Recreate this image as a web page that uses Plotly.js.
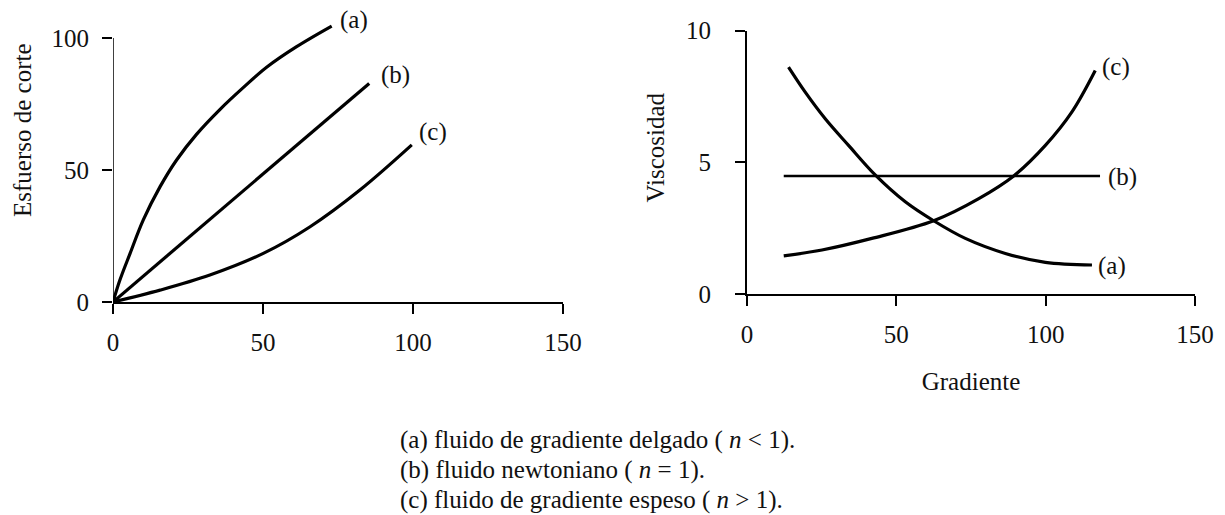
<!DOCTYPE html>
<html>
<head>
<meta charset="utf-8">
<script src="https://cdn.plot.ly/plotly-3.0.1.min.js"></script>
<style>
  html, body { margin: 0; padding: 0; background: #fff; }
  #chart { width: 1225px; height: 515px; }
</style>
</head>
<body>
<div id="chart"></div>
<script>
// Esfuerso de corte vs gradiente (left panel)
const shearA_x = [0, 2.3, 5.7, 10.1, 15.7, 21.2, 27.9, 35.7, 43.4, 51.2, 61.2, 72.9];
const shearA_y = [0, 8.3, 18.4, 31.1, 43.7, 53.8, 63.6, 73.0, 81.2, 88.9, 96.7, 104.5];
const shearB_x = [0, 85.4];
const shearB_y = [0, 82.8];
const shearC_x = [0, 15.7, 32.3, 50.1, 65.7, 82.3, 99.6];
const shearC_y = [0, 4.5, 10.2, 18.4, 28.5, 42.4, 59.5];

// Viscosidad vs gradiente (right panel)
const viscA_x = [13.9, 19.5, 26.2, 34.0, 43.0, 53.0, 62.5, 73.1, 86.5, 99.9, 115.5];
const viscA_y = [8.61, 7.66, 6.65, 5.64, 4.51, 3.50, 2.78, 2.11, 1.54, 1.20, 1.10];
const viscB_x = [12.3, 118.2];
const viscB_y = [4.48, 4.48];
const viscC_x = [12.3, 25.1, 41.8, 62.5, 77.6, 89.3, 99.9, 108.8, 116.6];
const viscC_y = [1.45, 1.67, 2.11, 2.78, 3.62, 4.48, 5.64, 6.91, 8.48];

// Tick values and labels
const xTicks = [0, 50, 100, 150];
const shearTicks = [0, 50, 100];
const viscTicks = [0, 5, 10];
const curveNames = ['(a)', '(b)', '(c)'];
const captionLines = [
  '(a) fluido de gradiente delgado ( <i>n</i> &lt; 1).',
  '(b) fluido newtoniano ( <i>n</i> = 1).',
  '(c) fluido de gradiente espeso ( <i>n</i> &gt; 1).'
];

const W = 1225, H = 515;
const serif = 'Liberation Serif, Times New Roman, serif';
const txt = { family: serif, size: 25, color: '#111' };
const curveLine = { color: '#000', width: 3.2, shape: 'spline', smoothing: 1 };

function line(x, y, xa, ya, extra) {
  return {
    type: 'scatter', mode: 'lines', x: x, y: y, xaxis: xa, yaxis: ya,
    line: Object.assign({}, curveLine, extra || {}), hoverinfo: 'skip'
  };
}

const traces = [
  line(shearA_x, shearA_y, 'x', 'y'),
  line(shearB_x, shearB_y, 'x', 'y', { shape: 'linear' }),
  line(shearC_x, shearC_y, 'x', 'y'),
  line(viscA_x, viscA_y, 'x2', 'y2'),
  line(viscB_x, viscB_y, 'x2', 'y2', { shape: 'linear', width: 2.6 }),
  line(viscC_x, viscC_y, 'x2', 'y2')
];

// pixel helpers for panel placement
const px = v => v / W;
const py = v => (H - v) / H;

const axisCommon = {
  showgrid: false, zeroline: false, ticks: 'outside', ticklen: 10,
  tickcolor: '#000', tickfont: txt, fixedrange: true
};

const layout = {
  width: W, height: H,
  margin: { l: 0, r: 0, t: 0, b: 0 },
  paper_bgcolor: '#fff', plot_bgcolor: '#fff',
  showlegend: false,
  xaxis: Object.assign({}, axisCommon, {
    domain: [px(113), px(563)], range: [0, 150], anchor: 'y',
    tickvals: xTicks, ticktext: xTicks.map(String), tickwidth: 1.5,
    showline: true, linecolor: '#000', linewidth: 1.5, ticklabelstandoff: 7
  }),
  yaxis: Object.assign({}, axisCommon, {
    domain: [py(302), py(11.6)], range: [0, 110], anchor: 'x',
    tickvals: shearTicks, ticktext: shearTicks.map(String), tickwidth: 1.5,
    showline: false, ticklabelstandoff: 8
  }),
  xaxis2: Object.assign({}, axisCommon, {
    domain: [px(747), px(1195)], range: [0, 150], anchor: 'y2',
    tickvals: xTicks, ticktext: xTicks.map(String), tickwidth: 2,
    showline: true, linecolor: '#000', linewidth: 2, ticklabelstandoff: 7,
    title: { text: 'Gradiente', font: txt, standoff: 25 }
  }),
  yaxis2: Object.assign({}, axisCommon, {
    domain: [py(294), py(30.5)], range: [0, 10], anchor: 'x2',
    tickvals: viscTicks, ticktext: viscTicks.map(String), tickwidth: 2,
    showline: true, linecolor: '#000', linewidth: 2, ticklabelstandoff: 19
  }),
  shapes: [
    // vertical axis of the shear panel stops at its top tick
    { type: 'line', xref: 'x', yref: 'y', x0: 0, x1: 0, y0: 0,
      y1: shearTicks[shearTicks.length - 1], line: { color: '#000', width: 1.5 } }
  ],
  annotations: [
    // curve labels, left panel
    { xref: 'x', yref: 'y', x: 80.4, y: 106.8, text: curveNames[0] },
    { xref: 'x', yref: 'y', x: 94.3, y: 86.0, text: curveNames[1] },
    { xref: 'x', yref: 'y', x: 106.6, y: 64.5, text: curveNames[2] },
    // curve labels, right panel
    { xref: 'x2', yref: 'y2', x: 122.2, y: 1.08, text: curveNames[0] },
    { xref: 'x2', yref: 'y2', x: 125.7, y: 4.44, text: curveNames[1] },
    { xref: 'x2', yref: 'y2', x: 123.5, y: 8.61, text: curveNames[2] },
    // vertical axis titles
    { xref: 'paper', yref: 'paper', x: px(22), y: py(130), textangle: -90,
      text: 'Esfuerso de corte' },
    { xref: 'paper', yref: 'paper', x: px(655), y: py(147.5), textangle: -90,
      text: 'Viscosidad' },
    // explanatory caption
    ...captionLines.map((t, i) => ({
      xref: 'paper', yref: 'paper', x: px(398), y: py(440 + 30 * i),
      xanchor: 'left', yanchor: 'middle', text: t
    }))
  ].map(a => Object.assign({ showarrow: false, font: txt, xanchor: 'center', yanchor: 'middle' }, a))
};

Plotly.newPlot('chart', traces, layout, { staticPlot: true, displayModeBar: false });
</script>
</body>
</html>
